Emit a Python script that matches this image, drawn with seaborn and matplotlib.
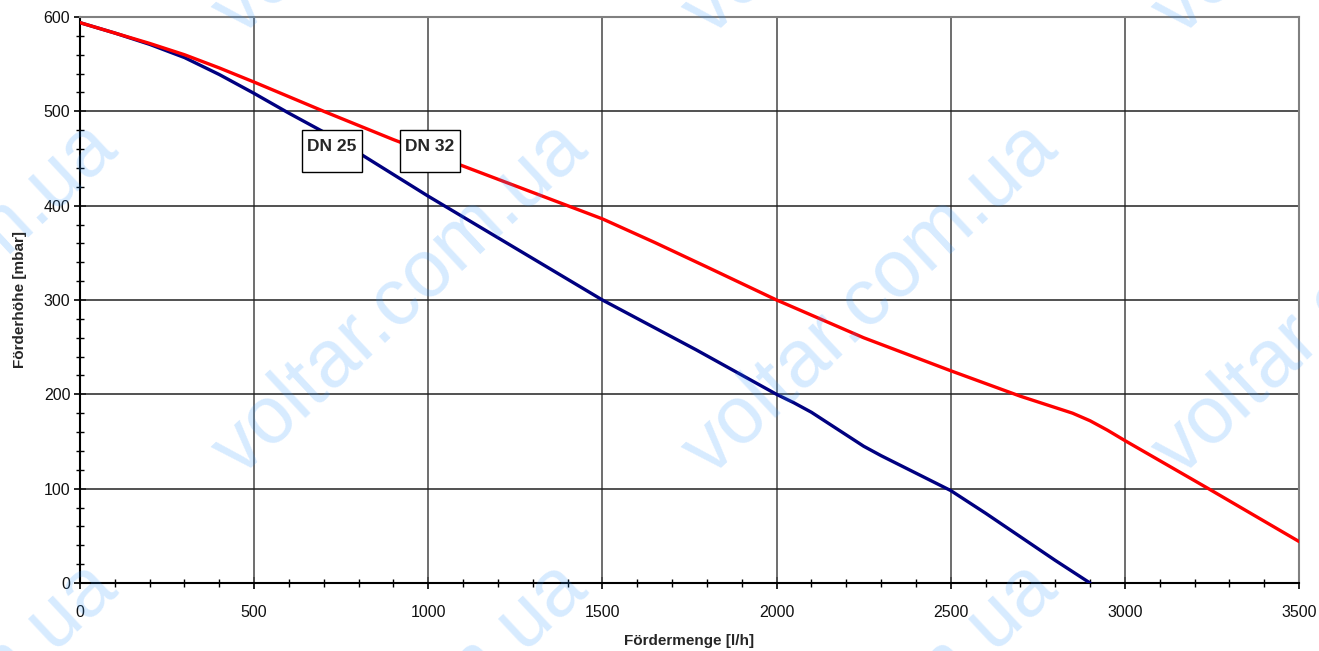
import numpy as np
import pandas as pd
import matplotlib
matplotlib.use("Agg")
import matplotlib.pyplot as plt
from matplotlib.patches import Rectangle
from matplotlib.ticker import MultipleLocator
import seaborn as sns

# Pump curves: flow rate [l/h] vs. delivery head [mbar]
dn32_flow = [0, 100, 200, 300, 400, 500, 700, 900, 1100, 1400, 1500, 1650,
             1800, 2000, 2250, 2500, 2700, 2800, 2850, 2900, 2950, 3000,
             3240, 3500]
dn32_head = [594, 583, 572, 560, 546, 531, 500, 470, 442, 400, 386, 361,
             335, 300, 260, 225, 198, 186, 180, 172, 162, 151,
             100, 44]

dn25_flow = [0, 100, 200, 300, 400, 500, 600, 700, 800, 1000, 1200, 1500,
             1770, 2000, 2050, 2100, 2150, 2200, 2250, 2300, 2500, 2600,
             2700, 2800, 2900]
dn25_head = [594, 583, 571, 557, 539, 519, 498, 478, 456, 410, 366, 300,
             247, 200, 191, 181, 169, 157, 145, 135, 98, 74,
             49, 24, 0]

series_names = ["DN 25", "DN 32"]
series_colors = {"DN 25": "#000080", "DN 32": "#ff0000"}

# label boxes: (text, x0, x1, y_bottom, y_top) in data units
label_boxes = [("DN 25", 637, 810, 436, 480),
               ("DN 32", 919, 1091, 436, 480)]

x_ticks = [0, 500, 1000, 1500, 2000, 2500, 3000, 3500]
y_ticks = [0, 100, 200, 300, 400, 500, 600]

df = pd.concat([
    pd.DataFrame({"flow": dn25_flow, "head": dn25_head, "pipe": "DN 25"}),
    pd.DataFrame({"flow": dn32_flow, "head": dn32_head, "pipe": "DN 32"}),
], ignore_index=True)

sns.set_theme(style="white")
plt.rcParams["font.family"] = ["Liberation Sans", "DejaVu Sans"]

fig = plt.figure(figsize=(13.19, 6.51), dpi=100)
ax = fig.add_axes([80 / 1319, 1 - 583 / 651, 1219 / 1319, 566 / 651])

grid_col = "#555555"
for xv in x_ticks[1:-1]:
    ax.axvline(xv, color=grid_col, lw=1.2, zorder=1)
for yv in y_ticks[1:-1]:
    ax.axhline(yv, color="#222222", lw=1.1, zorder=1)

sns.lineplot(data=df, x="flow", y="head", hue="pipe", hue_order=series_names,
             palette=series_colors, linewidth=2.4, sort=False, estimator=None,
             legend=False, ax=ax, zorder=3)
for line in ax.get_lines():
    line.set_solid_joinstyle("round")

for text, x0, x1, y0, y1 in label_boxes:
    ax.add_patch(Rectangle((x0, y0), x1 - x0, y1 - y0, facecolor="white",
                           edgecolor="black", lw=1.0, zorder=4))
    ax.text((x0 + x1) / 2, y1 - (y1 - y0) * 0.4, text, ha="center",
            va="center", fontsize=12.5, fontweight="bold", zorder=5)

ax.set_xlim(0, 3500)
ax.set_ylim(0, 600)
ax.set_xticks(x_ticks)
ax.set_yticks(y_ticks)
ax.xaxis.set_minor_locator(MultipleLocator(100))
ax.yaxis.set_minor_locator(MultipleLocator(20))
ax.tick_params(axis="both", which="major", direction="inout", length=8,
               width=1.2, color="black", labelsize=11.5, labelcolor="#111111")
ax.tick_params(axis="both", which="minor", direction="inout", length=6,
               width=1.0, color="black")
ax.tick_params(axis="x", which="major", pad=12)
ax.tick_params(axis="y", which="major", pad=3)
ax.tick_params(left=True, bottom=True, which="both")

for side in ("left", "bottom"):
    ax.spines[side].set_color("black")
    ax.spines[side].set_linewidth(1.5)
for side in ("top", "right"):
    ax.spines[side].set_color("#808080")
    ax.spines[side].set_linewidth(1.5)

ax.set_xlabel("Fördermenge [l/h]", fontsize=11, fontweight="bold", labelpad=10)
ax.set_ylabel("Förderhöhe [mbar]", fontsize=11, fontweight="bold", labelpad=12)

# site watermark tiled diagonally across the figure
for i in range(-1, 3):
    for j in range(-1, 2):
        px = 240 + 470 * i
        py = 478 + 440 * j
        fig.text(px / 1319, 1 - py / 651, "voltar.com.ua", rotation=43,
                 rotation_mode="anchor", ha="left", va="baseline",
                 fontsize=58, color="#3399ff", alpha=0.2, zorder=10)

fig.savefig("out.png", dpi=100)
